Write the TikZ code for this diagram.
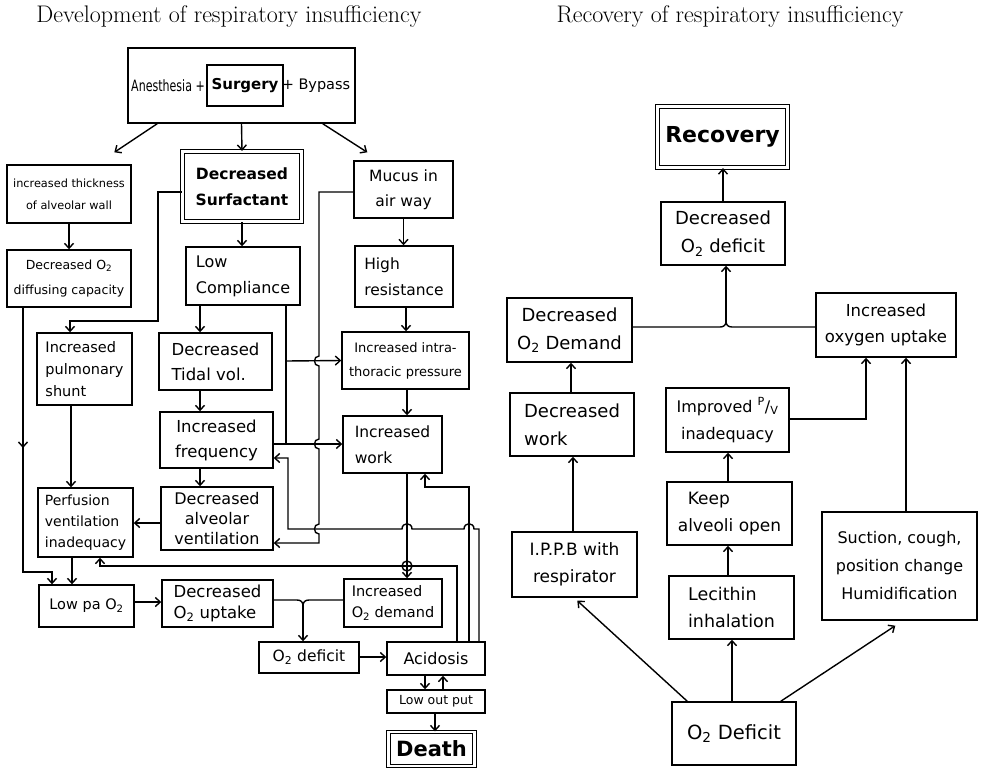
\documentclass[tikz,border=0pt]{standalone}
\usepackage{fontspec}
\newfontfamily\hand{DejaVu Sans}
\usetikzlibrary{arrows.meta,calc}
\newcommand\fs[2]{\fontsize{#1}{#2}\selectfont}
\newcommand\Ot{O\textsubscript{2}}
\begin{document}
\begin{tikzpicture}[x=1pt,y=-1pt,
  bx/.style={draw, line width=1.4pt, align=center, inner sep=1pt},
  dbl/.style={bx, double, double distance=2.2pt, line width=1.2pt},
  wh/.style 2 args={minimum width=#1, minimum height=#2},
  arr/.style={-{Straight Barb[length=5pt,width=9pt]}, line width=1.4pt},
  ln/.style={line width=1.4pt}]
\fill[white] (0,0) rectangle (981,771);
\useasboundingbox (0,0) rectangle (981,771);

% titles
\node[font=\fs{24}{28}] (t1) at (229,17) {Development of respiratory insufficiency};
\node[font=\fs{24}{28}] (t2) at (730,17) {Recovery of respiratory insufficiency};

% left diagram
\node[bx,wh={227}{75}] (top) at (241.5,85.5) {};
\node[font=\hand\fs{12}{14}] (anes) at (168,86) {\scalebox{0.92}[1.3]{Anesthesia +}};
\node[bx,line width=1.6pt,wh={76}{41},font=\hand\bfseries\fs{15}{17}] (surg) at (245,85.5) {Surgery};
\node[font=\hand\fs{14.5}{16}] (byp) at (316,86) {+ Bypass};

\node[bx,wh={124}{58},font=\hand\fs{11.3}{22}] (thick) at (69,194) {increased thickness\\of alveolar wall};
\node[dbl,wh={119}{70},font=\hand\bfseries\fs{15.5}{26}] (surf) at (242,186.5) {Decreased\\Surfactant};
\node[bx,wh={99}{57},font=\hand\fs{15.5}{25}] (mucus) at (403.5,189.5) {Mucus in\\air way};
\node[bx,wh={124}{57},font=\hand\fs{12.5}{25}] (diff) at (69,278.5) {Decreased \Ot\\diffusing capacity};
\node[bx,wh={114}{58},font=\hand\fs{16}{26},align=left] (lowc) at (243,276) {Low\\Compliance};
\node[bx,wh={98}{61},font=\hand\fs{15.5}{26},align=left] (highr) at (404,276.5) {High\\resistance};
\node[bx,wh={95}{72},font=\hand\fs{14.5}{22},align=left] (shunt) at (84.5,369) {Increased\\pulmonary\\shunt};
\node[bx,wh={113}{57},font=\hand\fs{16.5}{25},align=left] (tidal) at (215.5,361.5) {Decreased\\Tidal vol.};
\node[bx,wh={127}{57},font=\hand\fs{13}{24}] (itp) at (405.5,360.5) {Increased intra-\\thoracic pressure};
\node[bx,wh={113}{56},font=\hand\fs{16.5}{25}] (freq) at (216.5,440) {Increased\\frequency};
\node[bx,wh={99}{57},font=\hand\fs{15.5}{26},align=left] (work) at (392.5,444.5) {Increased\\work};
\node[bx,wh={95}{69},font=\hand\fs{14}{21},align=left] (perf) at (85.5,522.5) {Perfusion\\ventilation\\inadequacy};
\node[bx,wh={112}{63},font=\hand\fs{16}{20}] (alv) at (217,518.5) {Decreased\\alveolar\\ventilation};
\node[bx,wh={95}{42},font=\hand\fs{14.5}{16}] (lowpa) at (86.5,606) {Low pa \Ot};
\node[bx,wh={111}{47},font=\hand\fs{16.5}{21},align=left] (decup) at (217.5,603.5) {Decreased\\\Ot{} uptake};
\node[bx,wh={98}{48},font=\hand\fs{14.5}{21},align=left] (incdem) at (393,603) {Increased\\\Ot{} demand};
\node[bx,wh={100}{31},font=\hand\fs{15.5}{17}] (o2def) at (309,657.5) {\Ot{} deficit};
\node[bx,wh={98}{33},font=\hand\fs{16}{17}] (acid) at (436,658.5) {Acidosis};
\node[bx,wh={98}{23},font=\hand\fs{12.5}{14}] (lowout) at (436,701.5) {Low out put};
\node[dbl,wh={86}{34},font=\hand\bfseries\fs{21}{22}] (death) at (431.5,749) {Death};

% left connectors
\draw[arr] ([xshift=30pt]top.south west) -- ([xshift=108pt,yshift=12pt]thick.north west);
\draw[arr] (top.south) -- (surf.north);
\draw[arr] ([xshift=-33pt]top.south east) -- ([xshift=14pt,yshift=8pt]mucus.north west);
\draw[arr] (thick.south) -- (diff.north);
\draw[arr] (surf.south) -- (lowc.north -| surf.south);
\draw[arr] (mucus.south) -- (highr.north -| mucus.south);
\draw[arr] (surf.west |- 0,192) -- (158,192) -- (158,321) -- (70,321) -- (shunt.north -| 70,0);
\draw[arr] (mucus.west |- 0,192) -- (319,192) -- (319,356)
   .. controls (313,356) and (313,366) .. (319,366) -- (319,439)
   .. controls (313,439) and (313,449) .. (319,449) -- (319,524)
   .. controls (313,524) and (313,534) .. (319,534) -- (319,543) -- (alv.east |- 0,543);
\draw[ln] (lowc.south -| 286,0) -- (286,444);
\draw[arr] (286,361) -- (itp.west);
\draw[arr] (freq.east |- 0,444) -- (work.west |- 0,444);
\draw[arr] (lowc.south -| 200,0) -- (tidal.north -| 200,0);
\draw[arr] (tidal.south -| 200,0) -- (freq.north -| 200,0);
\draw[arr] (freq.south -| 200,0) -- (alv.north -| 200,0);
\draw[arr] (highr.south -| 406,0) -- (itp.north -| 406,0);
\draw[arr] (itp.south -| 407,0) -- (work.north -| 407,0);
\draw[arr] (work.south -| 407,0) -- (incdem.north -| 407,0);
\draw[arr] (acid.north -| 479,0) -- (479,529) -- (474,529)
   .. controls (474,522) and (464,522) .. (464,529) -- (412,529)
   .. controls (412,522) and (402,522) .. (402,529) -- (288,529) -- (288,458) -- (freq.east |- 0,458);
\draw[arr] (acid.north -| 469,0) -- (469,487) -- (425,487) -- (work.south -| 425,0);
\draw[arr] (acid.north -| 457,0) -- (457,566) -- (100,566) -- (perf.south -| 100,0);
\draw[ln] (407,566) circle[radius=5pt];
\draw[arr] (shunt.south -| 71,0) -- (perf.north -| 71,0);
\draw[arr] (alv.west |- 0,523) -- (perf.east |- 0,523);
\draw[arr] (diff.south -| 23,0) -- (23,448);
\draw[arr] (23,446) -- (23,572) -- (52,572) -- (lowpa.north -| 52,0);
\draw[arr] (perf.south -| 72,0) -- (lowpa.north -| 72,0);
\draw[arr] (lowpa.east |- 0,602) -- (decup.west |- 0,602);
\draw[ln] (decup.east |- 0,600) -- (297,600) .. controls (301,600) and (303,602) .. (303,606);
\draw[ln] (incdem.west |- 0,600) -- (309,600) .. controls (305,600) and (303,602) .. (303,606);
\draw[arr] (303,605) -- (o2def.north -| 303,0);
\draw[arr] (o2def.east |- 0,657) -- (acid.west |- 0,657);
\draw[arr] (acid.south -| 425,0) -- (lowout.north -| 425,0);
\draw[arr] (lowout.north -| 443,0) -- (acid.south -| 443,0);
\draw[arr] (lowout.south -| 435,0) -- (death.north -| 435,0);

% right diagram
\node[dbl,wh={130}{61},font=\hand\bfseries\fs{22}{24}] (recov) at (722.5,137) {Recovery};
\node[bx,wh={124}{63},font=\hand\fs{18}{28}] (ddef) at (723,233.5) {Decreased\\\Ot{} deficit};
\node[bx,wh={125}{64},font=\hand\fs{18}{28}] (ddem) at (569.5,330) {Decreased\\\Ot{} Demand};
\node[bx,wh={140}{64},font=\hand\fs{16.5}{26}] (iou) at (886,325) {Increased\\oxygen uptake};
\node[bx,wh={124}{63},font=\hand\fs{18}{28},align=left] (dwork) at (572,424.5) {Decreased\\work};
\node[bx,wh={123}{64},font=\hand\fs{16}{27}] (impr) at (727.5,420) {Improved \textsuperscript{P}/\textsubscript{V}\\inadequacy};
\node[bx,wh={125}{63},font=\hand\fs{17}{27},align=left] (keep) at (729.5,513.5) {\hspace{10pt}Keep\\alveoli open};
\node[bx,wh={125}{63},font=\hand\fs{17.5}{27},align=left] (lec) at (731.5,607.5) {Lecithin\\inhalation};
\node[bx,wh={125}{65},font=\hand\fs{17}{27}] (ippb) at (574.5,564.5) {I.P.P.B with\\respirator};
\node[bx,wh={155}{108},font=\hand\fs{16}{28}] (suct) at (899.5,566) {Suction, cough,\\position change\\Humidification};
\node[bx,wh={124}{63},font=\hand\fs{19.5}{22}] (o2d) at (734,733.5) {\Ot{} Deficit};

% right connectors
\draw[arr] (ddef.north -| 723,0) -- (recov.south -| 723,0);
\draw[ln] (ddem.east |- 0,327) -- (720,327) .. controls (724,327) and (726,325) .. (726,321);
\draw[ln] (iou.west |- 0,327) -- (732,327) .. controls (728,327) and (726,325) .. (726,321);
\draw[arr] (726,322) -- (ddef.south -| 726,0);
\draw[arr] (dwork.north -| 571,0) -- (ddem.south -| 571,0);
\draw[arr] (ippb.north -| 573,0) -- (dwork.south -| 573,0);
\draw[arr] (impr.east |- 0,419) -- (866,419) -- (iou.south -| 866,0);
\draw[arr] (keep.north -| 728,0) -- (impr.south -| 728,0);
\draw[arr] (lec.north -| 728,0) -- (keep.south -| 728,0);
\draw[arr] (o2d.north -| 732,0) -- (lec.south -| 732,0);
\draw[arr] ([xshift=16pt]o2d.north west) -- ([xshift=66pt,yshift=-3pt]ippb.south west);
\draw[arr] ([xshift=-16pt]o2d.north east) -- ([xshift=74pt,yshift=-5pt]suct.south west);
\draw[arr] (suct.north -| 906,0) -- (iou.south -| 906,0);
\end{tikzpicture}
\end{document}
